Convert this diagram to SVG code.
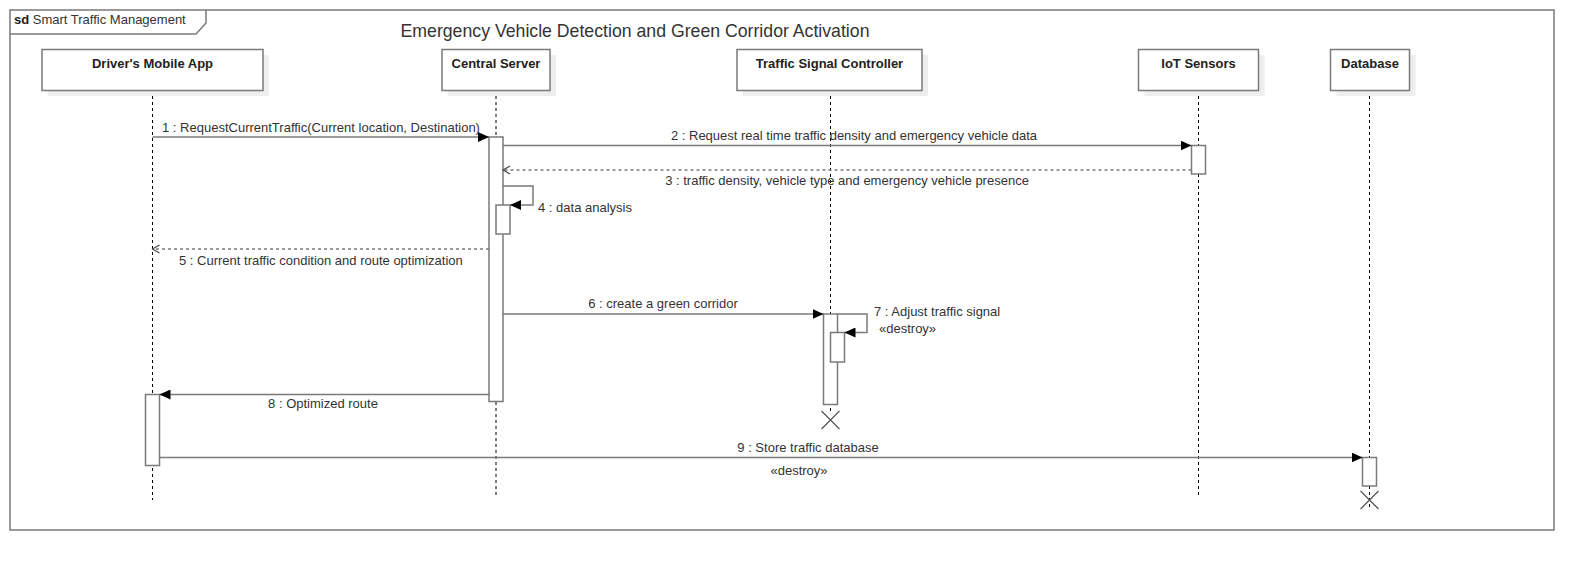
<svg xmlns="http://www.w3.org/2000/svg" width="1594" height="570" viewBox="0 0 1594 570">
<defs>
<style>
.frame{fill:none;stroke:#7a7a7a;stroke-width:1.5}
.head{fill:#fff;stroke:#7a7a7a;stroke-width:1.5}
.shadow{fill:#eeeeee;stroke:none}
.life{stroke:#000;stroke-width:1;stroke-dasharray:3 3;fill:none}
.act{fill:#fff;stroke:#7a7a7a;stroke-width:1.5}
.msg{stroke:#7a7a7a;stroke-width:1.5;fill:none}
.ret{stroke:#7a7a7a;stroke-width:1.5;fill:none;stroke-dasharray:3 3}
.x{stroke:#555;stroke-width:1.2}
text{font-family:"Liberation Sans",Arial,sans-serif;font-size:13px;fill:#333}
.hd{font-weight:bold;font-size:13px;fill:#222}
.title{font-size:17.7px;fill:#333}
</style>
<marker id="fill" markerWidth="12" markerHeight="10" refX="11" refY="5" orient="auto" markerUnits="userSpaceOnUse">
<path d="M0,0 L11,5 L0,10 Z" fill="#000"/>
</marker>
<marker id="open" markerWidth="10" markerHeight="10" refX="8" refY="5" orient="auto" markerUnits="userSpaceOnUse">
<path d="M1,1 L8,5 L1,9" fill="none" stroke="#444" stroke-width="1.1"/>
</marker>
</defs>

<g id="frame">
<rect class="frame" x="10" y="10" width="1544" height="520" fill="#fff"/>
<path class="frame" d="M10,34 L196,34 L206,23 L206,10"/>
<text x="14" y="24"><tspan font-weight="bold" fill="#222">sd</tspan> Smart Traffic Management</text>
<text class="title" x="635" y="37" text-anchor="middle">Emergency Vehicle Detection and Green Corridor Activation</text>
</g>

<g id="lifelines">
<line class="life" x1="152.5" y1="90" x2="152.5" y2="500"/>
<line class="life" x1="496" y1="90" x2="496" y2="496"/>
<line class="life" x1="830.5" y1="90" x2="830.5" y2="411"/>
<line class="life" x1="1198.5" y1="90" x2="1198.5" y2="496"/>
<line class="life" x1="1369.5" y1="90" x2="1369.5" y2="509"/>
</g>

<g id="driver">
<rect class="shadow" x="48" y="55" width="221" height="41"/>
<rect class="head" x="42" y="49.5" width="221" height="41"/>
<text class="hd" x="152.5" y="67.5" text-anchor="middle">Driver's Mobile App</text>
</g>
<g id="server">
<rect class="shadow" x="448" y="55" width="108" height="41"/>
<rect class="head" x="442" y="49.5" width="108" height="41"/>
<text class="hd" x="496" y="67.5" text-anchor="middle">Central Server</text>
</g>
<g id="controller">
<rect class="shadow" x="743" y="55" width="185" height="41"/>
<rect class="head" x="737" y="49.5" width="185" height="41"/>
<text class="hd" x="829.5" y="67.5" text-anchor="middle">Traffic Signal Controller</text>
</g>
<g id="sensors">
<rect class="shadow" x="1144.5" y="55" width="120" height="41"/>
<rect class="head" x="1138.5" y="49.5" width="120" height="41"/>
<text class="hd" x="1198.5" y="67.5" text-anchor="middle">IoT Sensors</text>
</g>
<g id="database">
<rect class="shadow" x="1336.5" y="55" width="79" height="41"/>
<rect class="head" x="1330.5" y="49.5" width="79" height="41"/>
<text class="hd" x="1370" y="67.5" text-anchor="middle">Database</text>
</g>

<g id="activations">
<rect class="act" x="489" y="137" width="14" height="264.5"/>
<rect class="act" x="496" y="205" width="14" height="29"/>
<rect class="act" x="1191.5" y="145.5" width="14" height="28.5"/>
<rect class="act" x="823.5" y="314" width="14" height="90.5"/>
<rect class="act" x="830.5" y="332.5" width="14" height="29.5"/>
<rect class="act" x="145.5" y="394.5" width="14" height="71"/>
<rect class="act" x="1362.5" y="457.5" width="14" height="28.5"/>
</g>

<g id="connectors">
<line class="msg" x1="152.5" y1="137" x2="489" y2="137" marker-end="url(#fill)"/>
<text x="321" y="131.5" text-anchor="middle">1 : RequestCurrentTraffic(Current location, Destination)</text>
<line class="msg" x1="503" y1="145.5" x2="1191.5" y2="145.5" marker-end="url(#fill)"/>
<text x="854" y="139.5" text-anchor="middle">2 : Request real time traffic density and emergency vehicle data</text>
<line class="ret" x1="1191.5" y1="170" x2="503" y2="170" marker-end="url(#open)"/>
<text x="847" y="184.5" text-anchor="middle">3 : traffic density, vehicle type and emergency vehicle presence</text>
<polyline class="msg" points="503,186 533,186 533,205 510,205" marker-end="url(#fill)"/>
<text x="538" y="212">4 : data analysis</text>
<line class="ret" x1="489" y1="249" x2="152.5" y2="249" marker-end="url(#open)"/>
<text x="179" y="264.5">5 : Current traffic condition and route optimization</text>
<line class="msg" x1="503" y1="314" x2="823.5" y2="314" marker-end="url(#fill)"/>
<text x="663" y="307.5" text-anchor="middle">6 : create a green corridor</text>
<polyline class="msg" points="837.5,314 867,314 867,332.5 844.5,332.5" marker-end="url(#fill)"/>
<text x="874" y="315.5">7 : Adjust traffic signal</text>
<text x="879" y="333">«destroy»</text>
<line class="msg" x1="489" y1="394.5" x2="159.5" y2="394.5" marker-end="url(#fill)"/>
<text x="323" y="408" text-anchor="middle">8 : Optimized route</text>
<line class="msg" x1="159.5" y1="457.5" x2="1362.5" y2="457.5" marker-end="url(#fill)"/>
<text x="808" y="452" text-anchor="middle">9 : Store traffic database</text>
<text x="799" y="475" text-anchor="middle">«destroy»</text>
</g>

<g id="destroy">
<path class="x" d="M821.5,411 L839.5,429 M839.5,411 L821.5,429"/>
<path class="x" d="M1360.5,491 L1378.5,509 M1378.5,491 L1360.5,509"/>
</g>
</svg>
